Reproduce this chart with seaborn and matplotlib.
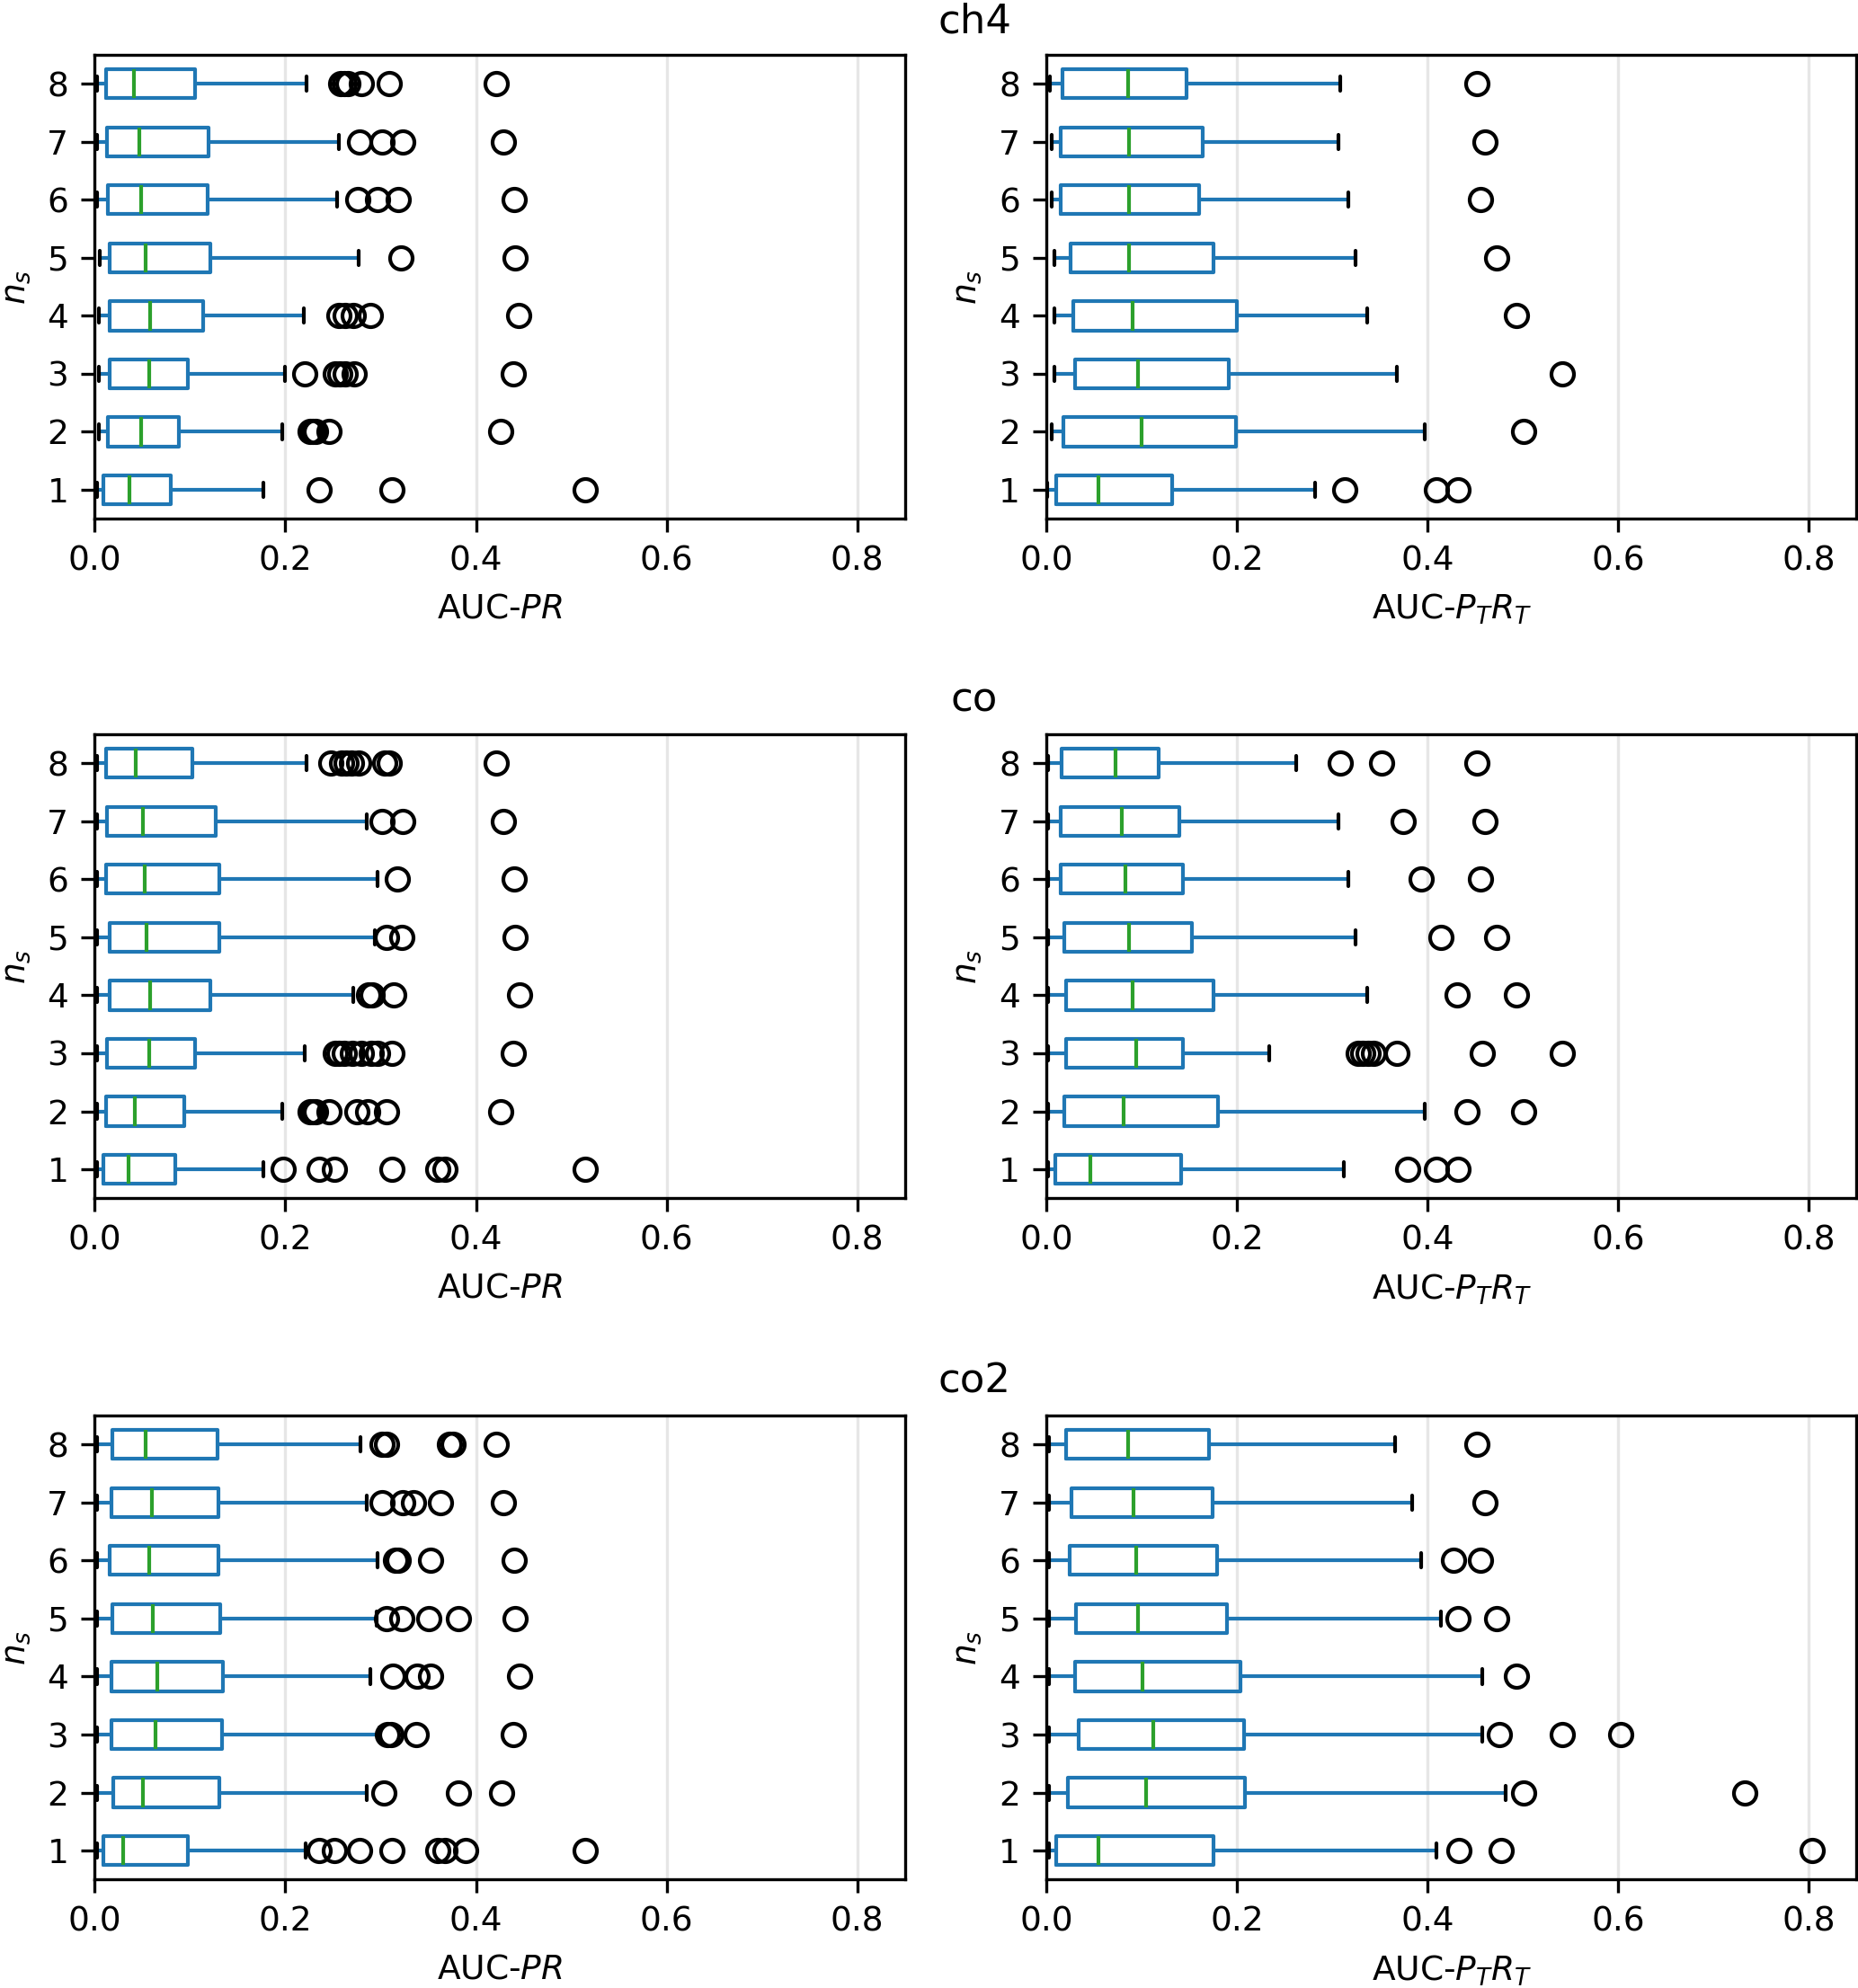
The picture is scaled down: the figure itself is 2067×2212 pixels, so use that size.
import matplotlib
matplotlib.use("Agg")
import matplotlib.pyplot as plt
import seaborn as sns

# ---------------- data (n_s = 1..8) ----------------
ns_labels = ["1", "2", "3", "4", "5", "6", "7", "8"]
gases = ["ch4", "co", "co2"]
metric_labels = ["AUC-$PR$", "AUC-$P_TR_T$"]
x_ticks = [0.0, 0.2, 0.4, 0.6, 0.8]

# ch4, AUC-PR
ch4_pr_whislo = [0.002, 0.004, 0.004, 0.004, 0.005, 0.002, 0.002, 0.002]
ch4_pr_q1 = [0.0086, 0.0141, 0.0154, 0.0154, 0.016, 0.0135, 0.0129, 0.0123]
ch4_pr_med = [0.036, 0.0485, 0.057, 0.0584, 0.0535, 0.049, 0.0467, 0.041]
ch4_pr_q3 = [0.080, 0.0885, 0.0977, 0.1137, 0.1217, 0.118, 0.1198, 0.105]
ch4_pr_whishi = [0.177, 0.197, 0.1997, 0.219, 0.277, 0.254, 0.256, 0.222]
ch4_pr_fliers = [
    [0.235, 0.312, 0.515],
    [0.226, 0.229, 0.232, 0.246, 0.426],
    [0.220, 0.252, 0.257, 0.263, 0.272, 0.439],
    [0.256, 0.263, 0.271, 0.289, 0.445],
    [0.321, 0.441],
    [0.276, 0.297, 0.318, 0.440],
    [0.278, 0.301, 0.323, 0.429],
    [0.258, 0.262, 0.266, 0.280, 0.309, 0.421],
]

# ch4, AUC-PTRT
ch4_pt_whislo = [0.001, 0.0056, 0.008, 0.0087, 0.0087, 0.006, 0.0056, 0.0037]
ch4_pt_q1 = [0.0105, 0.018, 0.0297, 0.0284, 0.0253, 0.0148, 0.0148, 0.0167]
ch4_pt_med = [0.0544, 0.0995, 0.0957, 0.090, 0.087, 0.087, 0.0865, 0.0853]
ch4_pt_q3 = [0.1316, 0.199, 0.191, 0.1995, 0.1754, 0.160, 0.164, 0.147]
ch4_pt_whishi = [0.2823, 0.3966, 0.3676, 0.337, 0.324, 0.317, 0.306, 0.308]
ch4_pt_fliers = [
    [0.3126, 0.409, 0.432],
    [0.5004],
    [0.541],
    [0.493],
    [0.472],
    [0.455],
    [0.460],
    [0.4516],
]

# co, AUC-PR
co_pr_whislo = [0.002, 0.002, 0.002, 0.002, 0.002, 0.002, 0.002, 0.002]
co_pr_q1 = [0.0086, 0.0123, 0.0129, 0.0154, 0.016, 0.0123, 0.0129, 0.0117]
co_pr_med = [0.035, 0.0418, 0.057, 0.0584, 0.054, 0.0528, 0.0504, 0.043]
co_pr_q3 = [0.0848, 0.094, 0.1057, 0.1217, 0.131, 0.131, 0.127, 0.102]
co_pr_whishi = [0.177, 0.197, 0.2206, 0.271, 0.2943, 0.2968, 0.2857, 0.222]
co_pr_fliers = [
    [0.198, 0.235, 0.251, 0.312, 0.360, 0.367, 0.515],
    [0.226, 0.229, 0.232, 0.246, 0.275, 0.286, 0.306, 0.426],
    [0.252, 0.256, 0.262, 0.270, 0.280, 0.290, 0.297, 0.312, 0.439],
    [0.2876, 0.291, 0.3134, 0.4455],
    [0.306, 0.322, 0.441],
    [0.317, 0.440],
    [0.301, 0.323, 0.429],
    [0.2476, 0.2587, 0.264, 0.269, 0.2765, 0.304, 0.309, 0.4215],
]

# co, AUC-PTRT
co_pt_whislo = [0.002, 0.002, 0.002, 0.002, 0.002, 0.002, 0.002, 0.002]
co_pt_q1 = [0.0093, 0.0192, 0.021, 0.021, 0.0192, 0.0148, 0.0148, 0.016]
co_pt_med = [0.0457, 0.081, 0.0945, 0.090, 0.087, 0.0828, 0.079, 0.0723]
co_pt_q3 = [0.1415, 0.180, 0.1433, 0.1754, 0.1526, 0.1433, 0.139, 0.1174]
co_pt_whishi = [0.312, 0.3966, 0.234, 0.337, 0.324, 0.317, 0.306, 0.2625]
co_pt_fliers = [
    [0.3787, 0.409, 0.432],
    [0.441, 0.5004],
    [0.327, 0.332, 0.338, 0.343, 0.368, 0.457, 0.541],
    [0.4306, 0.493],
    [0.414, 0.472],
    [0.3935, 0.455],
    [0.374, 0.460],
    [0.308, 0.352, 0.4516],
]

# co2, AUC-PR
co2_pr_whislo = [0.002, 0.002, 0.002, 0.002, 0.002, 0.002, 0.002, 0.002]
co2_pr_q1 = [0.0092, 0.0197, 0.0172, 0.0178, 0.0184, 0.016, 0.0172, 0.0184]
co2_pr_med = [0.030, 0.051, 0.0633, 0.0657, 0.061, 0.057, 0.060, 0.0535]
co2_pr_q3 = [0.0977, 0.1309, 0.1333, 0.1346, 0.1315, 0.130, 0.130, 0.129]
co2_pr_whishi = [0.221, 0.2857, 0.2986, 0.2894, 0.2955, 0.2968, 0.2857, 0.279]
co2_pr_fliers = [
    [0.235, 0.251, 0.278, 0.312, 0.360, 0.367, 0.389, 0.515],
    [0.3035, 0.3816, 0.4264],
    [0.307, 0.311, 0.337, 0.4387],
    [0.3128, 0.338, 0.352, 0.4455],
    [0.306, 0.322, 0.350, 0.3816, 0.441],
    [0.316, 0.318, 0.352, 0.440],
    [0.301, 0.323, 0.334, 0.363, 0.429],
    [0.301, 0.306, 0.372, 0.3755, 0.4215],
]

# co2, AUC-PTRT
co2_pt_whislo = [0.003, 0.003, 0.003, 0.003, 0.003, 0.003, 0.003, 0.003]
co2_pt_q1 = [0.0105, 0.0222, 0.0334, 0.0297, 0.0309, 0.0247, 0.026, 0.021]
co2_pt_med = [0.055, 0.1044, 0.1124, 0.1007, 0.0964, 0.0945, 0.0914, 0.0853]
co2_pt_q3 = [0.1754, 0.2082, 0.2076, 0.2039, 0.1897, 0.179, 0.1748, 0.1705]
co2_pt_whishi = [0.409, 0.4819, 0.457, 0.457, 0.414, 0.393, 0.3842, 0.3657]
co2_pt_fliers = [
    [0.4324, 0.477, 0.803],
    [0.5004, 0.7327],
    [0.4757, 0.541, 0.6023],
    [0.493],
    [0.432, 0.472],
    [0.4275, 0.455],
    [0.460],
    [0.4516],
]

panels = {
    ("ch4", 0): (ch4_pr_whislo, ch4_pr_q1, ch4_pr_med, ch4_pr_q3, ch4_pr_whishi, ch4_pr_fliers),
    ("ch4", 1): (ch4_pt_whislo, ch4_pt_q1, ch4_pt_med, ch4_pt_q3, ch4_pt_whishi, ch4_pt_fliers),
    ("co", 0): (co_pr_whislo, co_pr_q1, co_pr_med, co_pr_q3, co_pr_whishi, co_pr_fliers),
    ("co", 1): (co_pt_whislo, co_pt_q1, co_pt_med, co_pt_q3, co_pt_whishi, co_pt_fliers),
    ("co2", 0): (co2_pr_whislo, co2_pr_q1, co2_pr_med, co2_pr_q3, co2_pr_whishi, co2_pr_fliers),
    ("co2", 1): (co2_pt_whislo, co2_pt_q1, co2_pt_med, co2_pt_q3, co2_pt_whishi, co2_pt_fliers),
}

# ---------------- style ----------------
sns.set_style("ticks", rc={
    "axes.edgecolor": "black",
    "axes.linewidth": 0.8,
    "xtick.color": "black",
    "ytick.color": "black",
    "text.color": "black",
    "axes.labelcolor": "black",
    "xtick.major.size": 3.5,
    "ytick.major.size": 3.5,
    "xtick.major.width": 0.8,
    "ytick.major.width": 0.8,
    "xtick.direction": "out",
    "ytick.direction": "out",
})
plt.rcParams["font.family"] = ["DejaVu Sans"]
plt.rcParams["font.size"] = 9
plt.rcParams["mathtext.fontset"] = "dejavusans"

fig = plt.figure(figsize=(2067 / 300, 2212 / 300), dpi=300)

col_x = [0.051, 0.5632]
col_w = 0.436
row_y = [0.739, 0.3972, 0.0545]
row_h = 0.2335
title_y = [0.9837, 0.642, 0.2993]

blue = "#1f77b4"
green = "#2ca02c"

for r, gas in enumerate(gases):
    fig.text(0.5245, title_y[r], gas, ha="center", va="baseline", fontsize=10.8)
    for c in range(2):
        ax = fig.add_axes([col_x[c], row_y[r], col_w, row_h])
        wlo, q1, med, q3, whi, fl = panels[(gas, c)]
        stats = []
        for i in range(len(ns_labels)):
            stats.append(dict(whislo=wlo[i], q1=q1[i], med=med[i], q3=q3[i],
                              whishi=whi[i], fliers=fl[i], label=ns_labels[i]))
        ax.grid(axis="x", color="#e6e6e6", linewidth=0.8, zorder=0)
        ax.set_axisbelow(True)
        kw = dict(positions=list(range(1, len(ns_labels) + 1)), widths=0.5,
                  boxprops=dict(color=blue, linewidth=1.0),
                  whiskerprops=dict(color=blue, linewidth=1.0),
                  capprops=dict(color="black", linewidth=1.0),
                  medianprops=dict(color=green, linewidth=1.0),
                  flierprops=dict(marker="o", markerfacecolor="none",
                                  markeredgecolor="black", markersize=6,
                                  markeredgewidth=1.0))
        try:
            ax.bxp(stats, orientation="horizontal", **kw)
        except TypeError:
            ax.bxp(stats, vert=False, **kw)
        ax.set_xlim(0, 0.85)
        ax.set_ylim(0.5, len(ns_labels) + 0.5)
        ax.set_xticks(x_ticks)
        ax.set_xticklabels([f"{t:.1f}" for t in x_ticks])
        ax.set_yticks(list(range(1, len(ns_labels) + 1)))
        ax.set_yticklabels(ns_labels)
        ax.set_xlabel(metric_labels[c])
        ax.set_ylabel("$n_s$")
        for s in ax.spines.values():
            s.set_visible(True)
            s.set_color("black")

fig.savefig("out.png", dpi=300)
